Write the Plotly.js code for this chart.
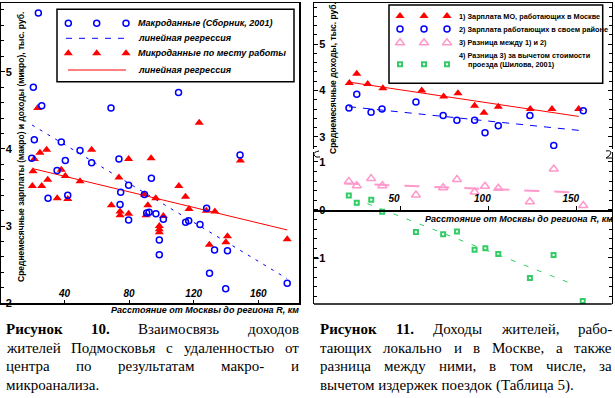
<!DOCTYPE html>
<html><head><meta charset="utf-8">
<script src="https://cdn.plot.ly/plotly-3.0.1.min.js"></script>
<style>html,body{margin:0;padding:0;background:#fff}#c{width:615px;height:398px}</style>
</head><body><div id="c"></div>
<script>
// ---------- DATA: left chart (Рисунок 10) ----------
const macroX = [23.8,20.7,25.9,110.6,68.8,21.3,38.0,49.6,148.7,19.7,40.5,56.8,73.7,35.4,93.8,79.7,74.8,42.0,89.5,29.8,74.4,128.0,90.9,92.4,96.6,101.2,79.7,115.0,116.9,123.9,98.7,132.9,140.9,98.7,129.8,139.8,177.9];
const macroY = [5.76,4.80,4.56,4.73,4.53,4.12,4.09,3.98,3.92,3.88,3.85,3.82,3.87,3.72,3.62,3.53,3.44,3.40,3.41,3.36,3.28,3.23,3.17,3.18,3.16,3.09,3.08,3.05,3.07,3.02,2.82,2.69,2.68,2.63,2.39,2.19,2.26];
const microX = [23.4,123.4,56.8,24.8,28.9,148.9,21.3,79.7,93.6,20.5,38.0,40.5,29.6,49.6,73.7,20.1,25.9,110.8,89.4,35.5,42.0,96.5,114.9,69.0,91.6,117.1,127.8,133.1,74.4,74.4,79.7,90.5,101.2,98.7,98.7,98.7,177.9,140.9,139.9,129.7];
const microY = [4.53,4.34,3.99,3.95,3.99,3.85,3.87,3.87,3.88,3.71,3.73,3.65,3.60,3.58,3.63,3.52,3.52,3.52,3.41,3.36,3.35,3.36,3.38,3.27,3.27,3.22,3.20,3.19,3.19,3.14,3.16,3.14,3.13,3.00,2.96,2.92,2.83,2.87,2.79,2.76];
const macroRegX = [19.9,177.8], macroRegY = [4.31,2.32];
const microRegX = [21.3,177.9], microRegY = [3.74,2.95];
const leftXTicks = [40,80,120,160];

// ---------- DATA: right chart (Рисунок 11) ----------
const moscowX = [21.3,25.5,31.7,40.3,62.3,74.7,82.8,92.2,97.5,105.6,123.7,136.0,151.1];
const moscowY = [4.16,4.36,4.14,4.05,4.00,3.87,3.94,3.67,3.52,3.65,3.60,3.60,3.60];
const localX = [21.1,25.5,33.6,39.8,59.0,74.4,82.2,92.2,98.1,105.6,123.5,137.0,153.7];
const localY = [3.62,3.92,3.53,3.60,3.75,3.46,3.36,3.36,3.09,3.24,3.46,2.81,3.56];
const diffX = [21.0,25.5,33.6,40.0,59.0,74.4,82.2,92.2,98.1,105.6,123.5,137.0,153.7];
const diffY = [0.59,0.50,0.65,0.50,0.31,0.46,0.63,0.37,0.49,0.45,0.17,0.85,0.09];
const netX = [21.0,25.5,33.7,39.9,59.0,74.4,82.2,92.2,98.3,105.6,123.5,136.9,153.4];
const netY = [0.30,0.15,0.21,-0.04,-0.46,-0.51,-0.45,-0.83,-0.80,-0.92,-1.42,-0.94,-1.90];
const moscowRegX = [21.3,151.1], moscowRegY = [4.18,3.44];
const localRegX = [21.1,153.4], localRegY = [3.65,3.13];
const diffRegX = [18.5,151.0], diffRegY = [0.55,0.36];
const netRegX = [31.5,148.0], netRegY = [0.13,-1.55];
const rightXTicks = [50,100,150];

// ---------- TEXT ----------
const leftLegend = ['Макроданные (Сборник, 2001)','линейная регрессия','Микроданные по месту работы','линейная регрессия'];
const rightLegend = ['1) Зарплата МО, работающих в Москве','2) Зарплата работающих в своем районе','3) Разница между 1) и 2)','4) Разница 3) за вычетом стоимости','проезда (Шилова, 2001)'];
const xTitle = 'Расстояние от Москвы до региона R, км';
const leftYTitle = 'Среднемесячные зарплаты (макро) и доходы (микро), тыс. руб.';
const rightYTitle = 'Среднемесячные доходы, тыс. руб.';
const capLeft = [
  [[['Рисунок',1],['10.',1],['Взаимосвязь',0],['доходов',0]],true],
  [[['жителей',0],['Подмосковья',0],['с',0],['удаленностью',0],['от',0]],true],
  [[['центра',0],['по',0],['результатам',0],['макро-',0],['и',0]],true],
  [[['микроанализа.',0]],false]];
const capRight = [
  [[['Рисунок',1],['11.',1],['Доходы',0],['жителей,',0],['рабо-',0]],true],
  [[['тающих',0],['локально',0],['и',0],['в',0],['Москве,',0],['а',0],['также',0]],true],
  [[['разница',0],['между',0],['ними,',0],['в',0],['том',0],['числе,',0],['за',0]],true],
  [[['вычетом издержек поездок (Таблица 5).',0]],false]];

// ---------- LAYOUT HELPERS (pixel geometry) ----------
const W=615,H=398;
const fx=p=>p/W, fy=p=>1-p/H;
const BLUE='#0000ff', RED='#ff0000', PINK='#ff99cc', GREEN='#33cc66';
const bold={family:'Liberation Sans',size:11,color:'#000',weight:700};
const boldIt={family:'Liberation Sans',size:10,color:'#000',weight:700,style:'italic'};

const traces=[];
// left chart
traces.push({x:macroRegX,y:macroRegY,xaxis:'x',yaxis:'y',mode:'lines',line:{color:BLUE,width:1,dash:'3px,6px'}});
traces.push({x:microRegX,y:microRegY,xaxis:'x',yaxis:'y',mode:'lines',line:{color:RED,width:1}});
traces.push({x:microX,y:microY,xaxis:'x',yaxis:'y',mode:'markers',marker:{symbol:'triangle-up',size:8,color:RED}});
traces.push({x:macroX,y:macroY,xaxis:'x',yaxis:'y',mode:'markers',marker:{symbol:'circle-open',size:6,color:BLUE,line:{width:1.5,color:BLUE}}});
// right chart upper
traces.push({x:moscowRegX,y:moscowRegY,xaxis:'x2',yaxis:'y2',mode:'lines',line:{color:RED,width:1}});
traces.push({x:localRegX,y:localRegY,xaxis:'x2',yaxis:'y2',mode:'lines',line:{color:BLUE,width:1,dash:'7px,7px'}});
traces.push({x:moscowX,y:moscowY,xaxis:'x2',yaxis:'y2',mode:'markers',marker:{symbol:'triangle-up',size:8,color:RED}});
traces.push({x:localX,y:localY,xaxis:'x2',yaxis:'y2',mode:'markers',marker:{symbol:'circle-open',size:6,color:BLUE,line:{width:1.5,color:BLUE}}});
// right chart lower
traces.push({x:diffRegX,y:diffRegY,xaxis:'x3',yaxis:'y3',mode:'lines',line:{color:PINK,width:2,dash:'15px,15px'}});
traces.push({x:netRegX,y:netRegY,xaxis:'x3',yaxis:'y3',mode:'lines',line:{color:GREEN,width:1,dash:'5px,9px'}});
traces.push({x:diffX,y:diffY,xaxis:'x3',yaxis:'y3',mode:'markers',marker:{symbol:'triangle-up-open',size:8,color:PINK,line:{width:1.5,color:PINK}}});
traces.push({x:netX,y:netY,xaxis:'x3',yaxis:'y3',mode:'markers',marker:{symbol:'square-open',size:4,color:GREEN,line:{width:2,color:GREEN}}});
// legend glyphs (pixel overlay axis)
const lgX=[68.3,96.7,126];
traces.push({x:lgX,y:[23.3,23.3,23.3],xaxis:'x4',yaxis:'y4',mode:'markers',marker:{symbol:'circle-open',size:6,color:BLUE,line:{width:1.5,color:BLUE}}});
traces.push({x:[66,124],y:[38.3,38.3],xaxis:'x4',yaxis:'y4',mode:'lines',line:{color:BLUE,width:1,dash:'6px,7px'}});
traces.push({x:lgX,y:[53.3,53.3,53.3],xaxis:'x4',yaxis:'y4',mode:'markers',marker:{symbol:'triangle-up',size:8,color:RED}});
traces.push({x:[68,126],y:[70,70],xaxis:'x4',yaxis:'y4',mode:'lines',line:{color:RED,width:1}});
const rgX=[400,424,447];
traces.push({x:rgX,y:[16,16,16],xaxis:'x4',yaxis:'y4',mode:'markers',marker:{symbol:'triangle-up',size:8,color:RED}});
traces.push({x:rgX,y:[29,29,29],xaxis:'x4',yaxis:'y4',mode:'markers',marker:{symbol:'circle-open',size:6,color:BLUE,line:{width:1.5,color:BLUE}}});
traces.push({x:rgX,y:[42.7,42.7,42.7],xaxis:'x4',yaxis:'y4',mode:'markers',marker:{symbol:'triangle-up-open',size:8,color:PINK,line:{width:1.5,color:PINK}}});
traces.push({x:rgX,y:[64.3,64.3,64.3],xaxis:'x4',yaxis:'y4',mode:'markers',marker:{symbol:'square-open',size:4,color:GREEN,line:{width:2,color:GREEN}}});

const annotations=[];
function ann(x,y,text,font,extra){annotations.push(Object.assign({xref:'x4',yref:'y4',x:x,y:y,text:text,showarrow:false,xanchor:'left',yanchor:'middle',borderpad:0,font:font},extra||{}));}
const lgFont={family:'Liberation Sans',size:9,color:'#000',weight:700,style:'italic'};
[23.3,38.3,53.3,70].forEach((y,i)=>ann(136.7,y,leftLegend[i],lgFont));
const rgFont={family:'Liberation Sans',size:7.3,color:'#000',weight:700};
[16,29,42.7,55].forEach((y,i)=>ann(458,y,rightLegend[i],rgFont));
ann(467,64.3,rightLegend[4],rgFont);
const ttlFont={family:'Liberation Sans',size:9,color:'#000',weight:700,style:'italic'};
ann(205,310,xTitle,ttlFont,{xanchor:'center'});
ann(519,219,xTitle,ttlFont,{xanchor:'center'});
ann(21,147,leftYTitle,{family:'Liberation Sans',size:8.5,color:'#000',weight:700},{xanchor:'center',textangle:-90});
ann(333,78,rightYTitle,{family:'Liberation Sans',size:8.5,color:'#000',weight:700},{xanchor:'center',textangle:-90});

// captions (justified)
const CAP=15;
const cv=document.createElement('canvas').getContext('2d');
function mw(t,b){cv.font=(b?'bold ':'')+CAP+'px "Liberation Serif"';return cv.measureText(t).width;}
const capFont={family:'Liberation Serif',size:CAP,color:'#000'};
const capY=[329,347.5,366,385];
function caption(lines,x0,x1){
  lines.forEach((ln,i)=>{
    const words=ln[0], just=ln[1], y=capY[i];
    if(!just||words.length<2){ann(x0,y,words.map(w=>w[1]?'<b>'+w[0]+'</b>':w[0]).join(' '),capFont);return;}
    const ws=words.map(w=>mw(w[0],w[1]));
    const gap=(x1-x0-ws.reduce((a,b)=>a+b,0))/(words.length-1);
    let x=x0;
    words.forEach((w,k)=>{ann(x,y,w[1]?'<b>'+w[0]+'</b>':w[0],capFont);x+=ws[k]+gap;});
  });
}
caption(capLeft,5,298);
caption(capRight,319,611);

const shapes=[
  {type:'rect',xref:'x4',yref:'y4',x0:57,y0:9.3,x1:294,y1:81.7,line:{color:'#000',width:1.5}},
  {type:'rect',xref:'x4',yref:'y4',x0:389,y0:5,x1:602.7,y1:83.3,line:{color:'#000',width:1.5}},
  {type:'line',xref:'x4',yref:'y4',x0:314,y0:304,x1:611.7,y1:304,line:{color:'#000',width:1.5}},
  // axis-break marks on the right chart
  {type:'path',xref:'x4',yref:'y4',path:'M 319,151 Q 313,152 314,155 Q 315,158 320,157',line:{color:'#000',width:1}},
  {type:'path',xref:'x4',yref:'y4',path:'M 606,151 Q 611,150 611,153 Q 610,156 606,158 L 612,158',line:{color:'#000',width:1}}
];

const yCommon={ticks:'inside',ticklen:4,tickcolor:'#000',showline:true,linecolor:'#000',linewidth:1.5,mirror:'allticks',showgrid:false,zeroline:false,ticklabelposition:'inside',ticklabeloverflow:'allow',tickfont:bold,dtick:1,tick0:0,
  minor:{dtick:0.2,tick0:0,ticks:'inside',ticklen:3,tickcolor:'#000',showgrid:false}};
const yRight={ticklabelposition:'outside',ticklabelstandoff:-15};
const layout={
  width:W,height:H,margin:{l:0,r:0,t:0,b:0},showlegend:false,paper_bgcolor:'#fff',plot_bgcolor:'rgba(0,0,0,0)',
  xaxis:{domain:[fx(1),fx(299)],range:[0.68,185.2],anchor:'y',tickvals:leftXTicks,ticks:'inside',ticklen:3,tickcolor:'#000',ticklabelposition:'inside',ticklabeloverflow:'allow',tickfont:boldIt,showline:true,linecolor:'#000',linewidth:1.5,mirror:true,showgrid:false,zeroline:false},
  yaxis:Object.assign({},yCommon,{domain:[fy(303.3),fy(3)],range:[2,5.89],anchor:'x',mirror:true}),
  xaxis2:{domain:[fx(314),fx(611.7)],range:[1.3,169.8],anchor:'y2',side:'top',showline:true,linecolor:'#000',linewidth:1.5,ticks:'',showticklabels:false,showgrid:false,zeroline:false},
  yaxis2:Object.assign({},yCommon,yRight,{domain:[fy(149.3),fy(3)],range:[2.73,5.89],anchor:'x2'}),
  xaxis3:{domain:[fx(314),fx(611.7)],range:[1.3,169.8],anchor:'free',position:fy(210),side:'top',showline:true,linecolor:'#000',linewidth:1.5,ticks:'outside',ticklen:4,tickcolor:'#000',tickvals:rightXTicks,ticklabelshift:-6,ticklabelstandoff:0,tickfont:boldIt,showgrid:false,zeroline:false},
  yaxis3:Object.assign({},yCommon,yRight,{domain:[fy(304),fy(151.7)],range:[-1.96,1.21],anchor:'x3'}),
  xaxis4:{domain:[0,1],range:[0,W],anchor:'y4',visible:false,fixedrange:true},
  yaxis4:{domain:[0,1],range:[H,0],anchor:'x4',visible:false,fixedrange:true},
  annotations:annotations,shapes:shapes
};
Plotly.newPlot('c',traces,layout,{staticPlot:true,displayModeBar:false});
</script></body></html>
